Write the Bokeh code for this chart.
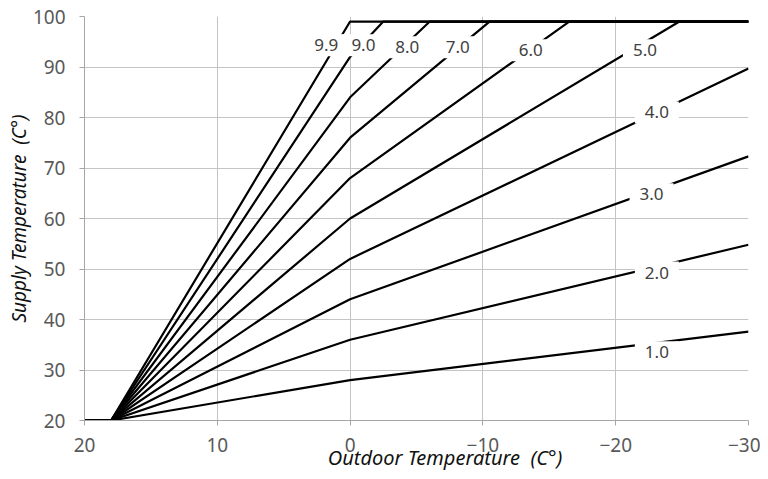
from bokeh.plotting import figure
from bokeh.models import Range1d, FixedTicker, ColumnDataSource
from bokeh.core.properties import value
from bokeh.embed import file_html
from bokeh.resources import INLINE

# Heating curves: breakpoints (outdoor temp, supply temp)
curve_names = ["1.0", "2.0", "3.0", "4.0", "5.0", "6.0", "7.0", "8.0", "9.0", "9.9"]
curve_x = [
    [20, 18, 0, -30],
    [20, 18, 0, -30],
    [20, 18, 0, -30],
    [20, 18, 0, -30],
    [20, 18, 0, -24.8, -30],
    [20, 18, 0, -16.5, -30],
    [20, 18, 0, -10.5, -30],
    [20, 18, 0, -6.0, -30],
    [20, 18, 0, -2.5, -30],
    [20, 18, 0, -30],
]
curve_y = [
    [20, 20, 28, 37.6],
    [20, 20, 36, 54.8],
    [20, 20, 44, 72.3],
    [20, 20, 52, 89.7],
    [20, 20, 60, 99, 99],
    [20, 20, 68, 99, 99],
    [20, 20, 76, 99, 99],
    [20, 20, 84, 99, 99],
    [20, 20, 92, 99, 99],
    [20, 20, 99, 99],
]
label_x = [-23.1, -23.1, -22.7, -23.1, -22.2, -13.6, -8.1, -4.3, -1.0, 1.8]
label_y = [33.5, 49.3, 64.8, 81.0, 93.3, 93.3, 93.9, 93.9, 94.3, 94.3]

x_ticks = [20, 10, 0, -10, -20, -30]
y_ticks = [20, 30, 40, 50, 60, 70, 80, 90, 100]

p = figure(width=760, height=479, output_backend="svg", toolbar_location=None,
           x_range=Range1d(20, -30), y_range=Range1d(20, 100),
           min_border_left=84, min_border_right=12, min_border_top=16, min_border_bottom=59)
p.outline_line_color = None
p.background_fill_color = "white"

grid_col = "#c4c4c4"
for ax in (p.xaxis[0], p.yaxis[0]):
    ax.axis_line_color = "#a6a6a6"
    ax.major_tick_line_color = "#a6a6a6"
    ax.minor_tick_line_color = None
    ax.major_tick_out = 5
    ax.major_tick_in = 0
    ax.major_label_text_font = "Noto Sans"
    ax.major_label_text_font_size = "19px"
    ax.major_label_text_color = "#595959"
    ax.axis_label_text_font = "Noto Sans"
    ax.axis_label_text_font_style = "italic"
    ax.axis_label_text_color = "#111111"

p.xaxis.axis_label_text_font_size = "20px"
p.yaxis.axis_label_text_font_size = "19px"
p.xaxis.ticker = FixedTicker(ticks=x_ticks)
p.yaxis.ticker = FixedTicker(ticks=y_ticks)
p.xaxis.major_label_overrides = {t: ("\u2212" + str(-t) if t < 0 else str(t)) for t in x_ticks}
p.xaxis.axis_label = "\u00a0" * 11 + "Outdoor Temperature\u00a0 (C\u00b0)"
p.yaxis.axis_label = "Supply Temperature\u00a0 (C\u00b0)"
p.xaxis.major_label_standoff = 12
p.yaxis.major_label_standoff = 14
p.xaxis.axis_label_standoff = -11
p.yaxis.axis_label_standoff = -2

p.xgrid.grid_line_color = grid_col
p.ygrid.grid_line_color = grid_col
p.xgrid.grid_line_width = 1
p.ygrid.grid_line_width = 1

p.multi_line(xs=curve_x, ys=curve_y, line_color="black", line_width=2.2)

src = ColumnDataSource(dict(x=label_x, y=label_y, t=curve_names))
p.rect(x="x", y="y", width=44, height=22, width_units="screen", height_units="screen",
       source=src, fill_color="white", line_color=None)
p.text(x="x", y="y", text="t", source=src, text_align="center", text_baseline="middle",
       text_font=value("Noto Sans"), text_font_size="17px", text_color="#404040")

open("out.html", "w").write(file_html(p, INLINE))
